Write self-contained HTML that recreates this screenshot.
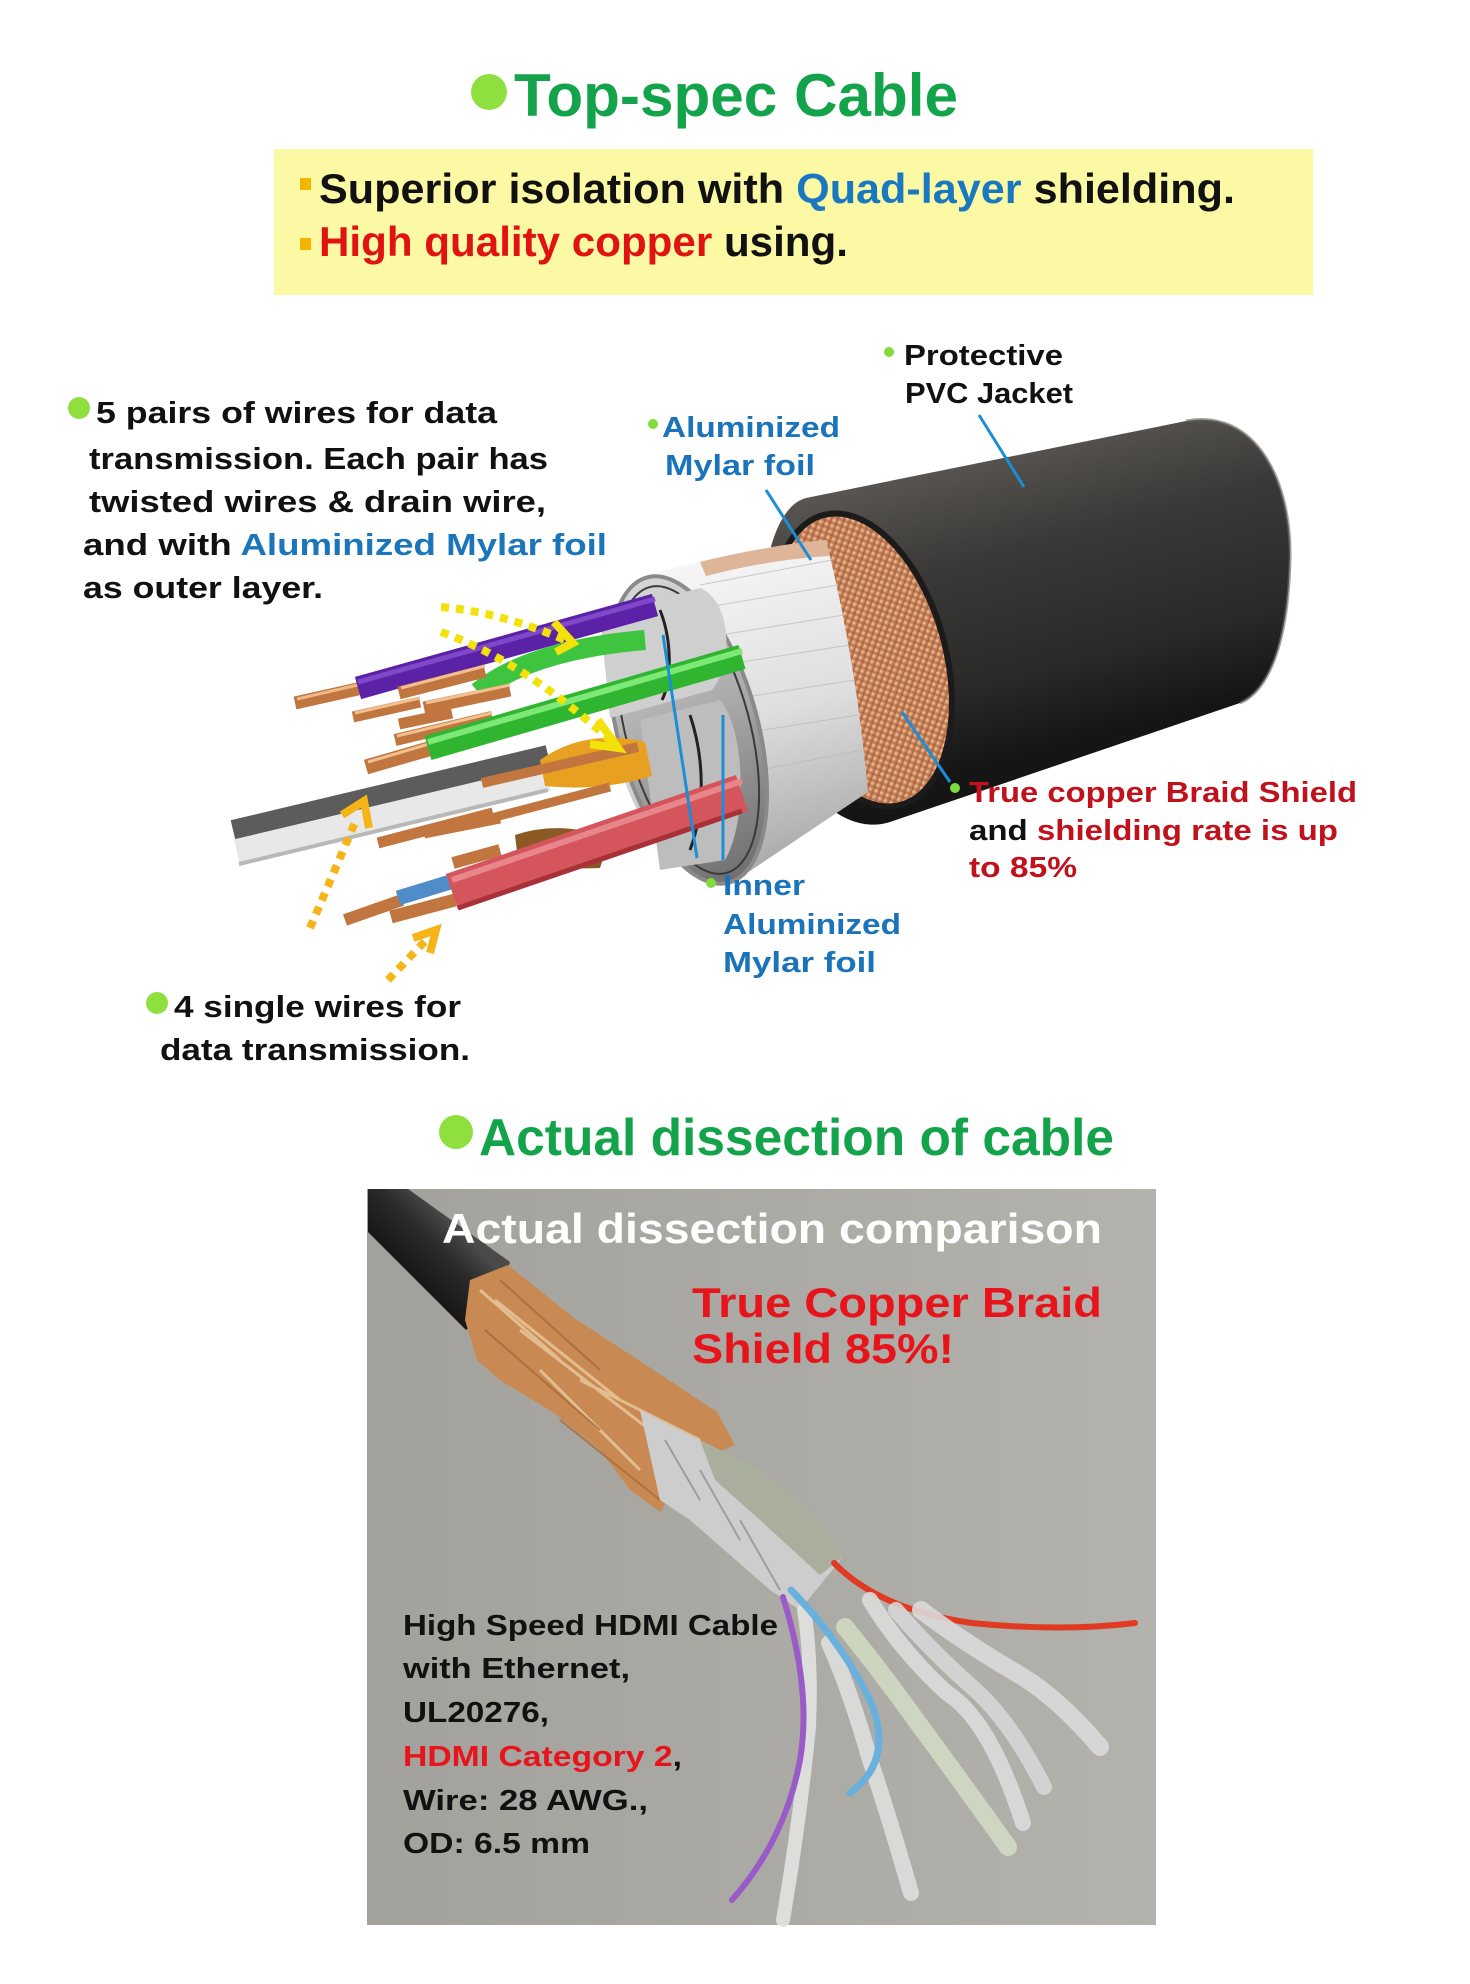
<!DOCTYPE html>
<html><head><meta charset="utf-8">
<style>
html,body{margin:0;padding:0;background:#fff;}
svg{display:block;}
text{font-family:"Liberation Sans",Arial,sans-serif;font-weight:bold;}
</style></head>
<body>
<svg width="1470" height="1984" viewBox="0 0 1470 1984" xmlns="http://www.w3.org/2000/svg">
<defs>
 <linearGradient id="jk" gradientUnits="userSpaceOnUse" x1="1000" y1="440" x2="1080" y2="740">
  <stop offset="0" stop-color="#5a5754"/>
  <stop offset="0.35" stop-color="#3b3937"/>
  <stop offset="0.75" stop-color="#2a2928"/>
  <stop offset="1" stop-color="#151515"/>
 </linearGradient>
 <radialGradient id="cu" cx="0.4" cy="0.4" r="0.7">
  <stop offset="0" stop-color="#f2cfa8"/>
  <stop offset="0.45" stop-color="#d49068"/>
  <stop offset="1" stop-color="#a86440"/>
 </radialGradient>
 <linearGradient id="foil" gradientUnits="userSpaceOnUse" x1="700" y1="560" x2="790" y2="880">
  <stop offset="0" stop-color="#f6f6f6"/>
  <stop offset="0.5" stop-color="#dedede"/>
  <stop offset="1" stop-color="#a4a4a4"/>
 </linearGradient>
 <linearGradient id="inner" gradientUnits="userSpaceOnUse" x1="640" y1="580" x2="730" y2="880">
  <stop offset="0" stop-color="#d8d8d8"/>
  <stop offset="0.5" stop-color="#a9a9a9"/>
  <stop offset="1" stop-color="#6e6e6e"/>
 </linearGradient>
 <linearGradient id="photo" x1="0" y1="0" x2="1" y2="0">
  <stop offset="0" stop-color="#a2a19c"/>
  <stop offset="1" stop-color="#b3b2ad"/>
 </linearGradient>
 <linearGradient id="blk" gradientUnits="userSpaceOnUse" x1="380" y1="1250" x2="430" y2="1200">
  <stop offset="0" stop-color="#151515"/>
  <stop offset="0.6" stop-color="#2a2a2a"/>
  <stop offset="1" stop-color="#4a4a4a"/>
 </linearGradient>
 <pattern id="stripes" width="6" height="6" patternUnits="userSpaceOnUse" patternTransform="rotate(35)">
  <rect width="6" height="6" fill="url(#cu)"/>
  <line x1="0" y1="0" x2="0" y2="6" stroke="#8a4a28" stroke-width="1.5" opacity="0.5"/>
 </pattern>
</defs>

<!-- ===== Title ===== -->
<circle cx="489" cy="92" r="18" fill="#8fe03e"/>
<text x="514" y="116" font-size="60" fill="#13a34a" textLength="444" lengthAdjust="spacingAndGlyphs">Top-spec Cable</text>

<rect x="274" y="149" width="1039" height="146" fill="#fcf9a4"/>
<rect x="300" y="178" width="11" height="12" fill="#f5b400"/>
<rect x="300" y="238" width="11" height="12" fill="#f5b400"/>
<text x="319" y="203" font-size="42" fill="#111" textLength="916" lengthAdjust="spacingAndGlyphs">Superior isolation with <tspan fill="#1a78c0">Quad-layer</tspan> shielding.</text>
<text x="319" y="256" font-size="42" fill="#111" textLength="529" lengthAdjust="spacingAndGlyphs"><tspan fill="#e01212">High quality copper</tspan> using.</text>

<!-- ===== Left description ===== -->
<circle cx="79" cy="408" r="11" fill="#8fe03e"/>
<text x="96" y="423" font-size="31" fill="#111" textLength="401" lengthAdjust="spacingAndGlyphs">5 pairs of wires for data</text>
<text x="89" y="469" font-size="31" fill="#111" textLength="459" lengthAdjust="spacingAndGlyphs">transmission. Each pair has</text>
<text x="89" y="512" font-size="31" fill="#111" textLength="457" lengthAdjust="spacingAndGlyphs">twisted wires &amp; drain wire,</text>
<text x="83" y="555" font-size="31" fill="#111" textLength="524" lengthAdjust="spacingAndGlyphs">and with <tspan fill="#1b75bb">Aluminized Mylar foil</tspan></text>
<text x="83" y="598" font-size="31" fill="#111" textLength="240" lengthAdjust="spacingAndGlyphs">as outer layer.</text>

<!-- ===== Cable illustration ===== -->
<!-- jacket -->
<path d="M806,498 L1186,421 C1255,408 1292,480 1290,560 C1288,640 1270,690 1240,703 L890,822 C850,835 800,800 775,720 C750,640 760,510 806,498 Z" fill="url(#jk)"/>
<path d="M1186,421 C1255,408 1292,480 1290,560 C1288,640 1270,690 1240,703" fill="none" stroke="#6a6764" stroke-width="3" opacity="0.6"/>
<!-- copper braid face -->
<ellipse cx="862" cy="660" rx="84" ry="150" transform="rotate(-15 862 660)" fill="url(#stripes)"/>
<ellipse cx="862" cy="660" rx="84" ry="150" transform="rotate(-15 862 660)" fill="none" stroke="#1c1b1b" stroke-width="6"/>
<!-- foil band -->
<path d="M647,575 C700,560 770,545 826,540 Q856,660 868,792 L729,885 C680,870 625,820 618,749 C612,680 625,610 647,575 Z" fill="url(#foil)"/>
<path d="M700,562 C740,552 790,543 826,540 L830,556 C790,558 745,566 706,576 Z" fill="#d9a582" opacity="0.8"/>
<g stroke="#b8b8b8" stroke-width="1" opacity="0.7">
 <line x1="700" y1="585" x2="832" y2="560"/><line x1="690" y1="610" x2="838" y2="585"/>
 <line x1="690" y1="640" x2="844" y2="615"/><line x1="690" y1="670" x2="850" y2="645"/>
 <line x1="695" y1="705" x2="855" y2="680"/><line x1="700" y1="740" x2="858" y2="715"/>
 <line x1="710" y1="780" x2="862" y2="750"/><line x1="720" y1="820" x2="865" y2="785"/>
</g>
<!-- opening -->
<ellipse cx="688" cy="730" rx="70" ry="158" transform="rotate(-15 688 730)" fill="url(#inner)" stroke="#8a8a8a" stroke-width="4"/>
<ellipse cx="688" cy="730" rx="62" ry="148" transform="rotate(-15 688 730)" fill="none" stroke="#3a3a3a" stroke-width="2"/>
<!-- inner silver tubes -->
<path d="M600,615 L700,588 C730,600 735,660 712,690 L610,718 Z" fill="#cfcfcf"/>
<path d="M640,720 L720,700 C745,730 748,820 725,860 L660,870 Z" fill="#bdbdbd"/>
<path d="M660,610 C672,640 672,680 662,700" fill="none" stroke="#222" stroke-width="3"/>
<path d="M690,715 C705,760 705,810 690,850" fill="none" stroke="#222" stroke-width="3"/>

<!-- purple wire -->
<line x1="295" y1="703" x2="362" y2="688" stroke="#c2763f" stroke-width="13"/>
<line x1="297" y1="699" x2="362" y2="684" stroke="#f0b888" stroke-width="3"/>
<line x1="358" y1="688" x2="655" y2="605" stroke="#5b22a8" stroke-width="23"/>
<line x1="358" y1="682" x2="655" y2="599" stroke="#7e48c8" stroke-width="5"/>
<!-- green twisted upper -->
<path d="M478,692 Q530,650 645,640" fill="none" stroke="#3fc43f" stroke-width="20"/>
<!-- copper tips -->
<g stroke="#c2763f" stroke-linecap="butt">
 <line x1="353" y1="717" x2="420" y2="702" stroke-width="11"/>
 <line x1="399" y1="693" x2="485" y2="671" stroke-width="13"/>
 <line x1="424" y1="708" x2="510" y2="690" stroke-width="13"/>
 <line x1="399" y1="724" x2="452" y2="713" stroke-width="11"/>
 <line x1="395" y1="740" x2="492" y2="717" stroke-width="12"/>
</g>
<g stroke="#f2c090" stroke-width="3">
 <line x1="355" y1="713" x2="420" y2="698"/>
 <line x1="401" y1="688" x2="485" y2="666"/>
 <line x1="426" y1="703" x2="510" y2="685"/>
 <line x1="397" y1="736" x2="492" y2="713"/>
</g>
<!-- green big wire -->
<line x1="366" y1="767" x2="432" y2="748" stroke="#c2763f" stroke-width="15"/>
<line x1="368" y1="762" x2="432" y2="743" stroke="#f2c090" stroke-width="3"/>
<line x1="428" y1="748" x2="742" y2="657" stroke="#2fb52f" stroke-width="25"/>
<line x1="428" y1="742" x2="742" y2="651" stroke="#7ee876" stroke-width="6"/>
<!-- gray / white pair -->
<line x1="233" y1="830" x2="548" y2="755" stroke="#5c5c5c" stroke-width="20"/>
<line x1="237" y1="852" x2="548" y2="778" stroke="#e8e8e8" stroke-width="26"/>
<line x1="239" y1="864" x2="548" y2="790" stroke="#b8b8b8" stroke-width="4"/>
<!-- orange twisted & brown -->
<path d="M540,760 Q585,728 645,742 L652,776 Q600,792 545,786 Z" fill="#e8a020"/>
<path d="M515,835 Q560,820 610,838 L600,868 Q560,870 518,860 Z" fill="#8a5a22"/>
<g stroke="#c2763f">
 <line x1="482" y1="783" x2="638" y2="747" stroke-width="10"/>
 <line x1="378" y1="843" x2="493" y2="813" stroke-width="11"/>
 <line x1="424" y1="833" x2="500" y2="818" stroke-width="11"/>
 <line x1="457" y1="827" x2="610" y2="787" stroke-width="9"/>
 <line x1="453" y1="863" x2="500" y2="850" stroke-width="12"/>
</g>
<!-- red & blue -->
<line x1="345" y1="920" x2="402" y2="900" stroke="#c2763f" stroke-width="12"/>
<line x1="391" y1="917" x2="455" y2="900" stroke="#c2763f" stroke-width="13"/>
<line x1="398" y1="898" x2="470" y2="876" stroke="#4f8cc8" stroke-width="15"/>
<line x1="452" y1="892" x2="742" y2="793" stroke="#d4555c" stroke-width="38"/>
<line x1="452" y1="880" x2="742" y2="781" stroke="#e8868c" stroke-width="6"/>
<line x1="458" y1="908" x2="742" y2="811" stroke="#a83038" stroke-width="5"/>

<!-- yellow dotted arrows -->
<g fill="none" stroke="#f2e20a" stroke-width="8">
 <path d="M441,607 Q500,612 565,640" stroke-dasharray="8 7"/>
 <polyline points="554,622 573,643 556,652"/>
 <path d="M441,632 Q525,662 612,742" stroke-dasharray="8 7"/>
 <polyline points="598,720 618,748 590,744"/>
</g>
<g fill="none" stroke="#f5b518" stroke-width="8">
 <path d="M310,928 L357,818" stroke-dasharray="8 7"/>
 <polyline points="342,815 364,801 369,828"/>
 <path d="M388,980 L428,938" stroke-dasharray="8 7"/>
 <polyline points="413,938 436,930 430,953"/>
</g>

<!-- leader lines -->
<g stroke="#1a8ed6" stroke-width="3">
 <line x1="979" y1="415" x2="1024" y2="487"/>
 <line x1="766" y1="490" x2="811" y2="560"/>
 <line x1="663" y1="635" x2="697" y2="858"/>
 <line x1="723" y1="715" x2="723" y2="860"/>
 <line x1="902" y1="712" x2="950" y2="782"/>
</g>

<!-- labels -->
<circle cx="653" cy="424" r="5" fill="#7edc3c"/>
<text x="662" y="437" font-size="29" fill="#1b73b9" textLength="178" lengthAdjust="spacingAndGlyphs">Aluminized</text>
<text x="665" y="475" font-size="29" fill="#1b73b9" textLength="150" lengthAdjust="spacingAndGlyphs">Mylar foil</text>

<circle cx="889" cy="352" r="5" fill="#7edc3c"/>
<text x="904" y="365" font-size="29" fill="#111" textLength="159" lengthAdjust="spacingAndGlyphs">Protective</text>
<text x="905" y="403" font-size="29" fill="#111" textLength="168" lengthAdjust="spacingAndGlyphs">PVC Jacket</text>

<circle cx="711" cy="883" r="5" fill="#7edc3c"/>
<text x="723" y="895" font-size="29" fill="#1b73b9" textLength="82" lengthAdjust="spacingAndGlyphs">Inner</text>
<text x="723" y="934" font-size="29" fill="#1b73b9" textLength="178" lengthAdjust="spacingAndGlyphs">Aluminized</text>
<text x="723" y="972" font-size="29" fill="#1b73b9" textLength="153" lengthAdjust="spacingAndGlyphs">Mylar foil</text>

<circle cx="955" cy="788" r="5" fill="#7edc3c"/>
<text x="969" y="802" font-size="29" fill="#c0121c" textLength="388" lengthAdjust="spacingAndGlyphs">True copper Braid Shield</text>
<text x="969" y="840" font-size="29" fill="#111" textLength="369" lengthAdjust="spacingAndGlyphs">and <tspan fill="#c0121c">shielding rate is up</tspan></text>
<text x="969" y="877" font-size="29" fill="#c0121c" textLength="108" lengthAdjust="spacingAndGlyphs">to 85%</text>

<circle cx="157" cy="1003" r="11" fill="#8fe03e"/>
<text x="174" y="1017" font-size="31" fill="#111" textLength="287" lengthAdjust="spacingAndGlyphs">4 single wires for</text>
<text x="160" y="1060" font-size="31" fill="#111" textLength="310" lengthAdjust="spacingAndGlyphs">data transmission.</text>

<!-- ===== Second title ===== -->
<circle cx="456" cy="1132" r="17" fill="#8fe03e"/>
<text x="479" y="1155" font-size="52" fill="#13a34a" textLength="635" lengthAdjust="spacingAndGlyphs">Actual dissection of cable</text>

<!-- ===== Photo ===== -->
<rect x="367" y="1189" width="789" height="736" fill="url(#photo)"/>
<!-- black cable -->
<polygon points="368,1189 408,1189 510,1262 498,1300 466,1330 368,1232" fill="url(#blk)"/>
<!-- copper braid -->
<polygon points="470,1280 508,1265 574,1318 646,1365 717,1412 735,1445 700,1460 680,1480 660,1512 630,1490 600,1450 554,1413 500,1380 477,1360 465,1320" fill="#c88a52"/>
<g stroke="#eac9a0" stroke-width="3" opacity="0.8">
 <line x1="480" y1="1290" x2="560" y2="1360"/>
 <line x1="495" y1="1300" x2="620" y2="1400"/>
 <line x1="520" y1="1330" x2="650" y2="1430"/>
 <line x1="540" y1="1370" x2="640" y2="1470"/>
 <line x1="580" y1="1380" x2="700" y2="1440"/>
</g>
<g stroke="#a86a3a" stroke-width="2" opacity="0.8">
 <line x1="500" y1="1280" x2="600" y2="1370"/>
 <line x1="485" y1="1330" x2="600" y2="1430"/>
 <line x1="560" y1="1420" x2="660" y2="1500"/>
</g>
<!-- foil -->
<polygon points="640,1410 700,1440 760,1470 820,1520 842,1558 800,1610 770,1590 730,1555 690,1520 660,1500" fill="#cdcdcd"/>
<polygon points="700,1440 760,1470 820,1520 842,1558 820,1575 760,1520 715,1480" fill="#a9ae9d"/>
<g stroke="#8a8a8a" stroke-width="2" opacity="0.7">
 <line x1="665" y1="1440" x2="700" y2="1500"/>
 <line x1="700" y1="1470" x2="740" y2="1540"/>
 <line x1="740" y1="1520" x2="780" y2="1590"/>
</g>
<!-- wires -->
<g fill="none" stroke-linecap="round">
 <path d="M834,1563 Q880,1610 972,1623 Q1060,1632 1135,1623" stroke="#e03a22" stroke-width="6"/>
 <path d="M1023,1823 Q990,1720 947,1693 Q900,1650 870,1600" stroke="#dcdcdc" stroke-width="16" opacity="0.9"/>
 <path d="M1044,1787 Q1010,1720 972,1687 Q930,1650 896,1610" stroke="#d6d6d6" stroke-width="16" opacity="0.9"/>
 <path d="M1100,1747 Q1060,1700 1023,1677 Q960,1640 921,1610" stroke="#dadada" stroke-width="18" opacity="0.9"/>
 <path d="M1008,1847 Q960,1780 921,1727 Q880,1670 845,1627" stroke="#d2d9c2" stroke-width="18" opacity="0.9"/>
 <path d="M911,1893 Q890,1820 870,1760 Q850,1690 829,1643" stroke="#dedede" stroke-width="16" opacity="0.9"/>
 <path d="M783,1920 Q800,1820 809,1727 Q812,1660 804,1610" stroke="#e2e2e2" stroke-width="14" opacity="0.9"/>
 <path d="M783,1597 Q812,1690 800,1760 Q785,1840 732,1900" stroke="#9a5ac8" stroke-width="6"/>
 <path d="M791,1590 Q840,1640 870,1700 Q895,1760 850,1793" stroke="#6ab0dc" stroke-width="7"/>
</g>
<!-- photo texts -->
<text x="442" y="1243" font-size="42" fill="#ffffff" textLength="660" lengthAdjust="spacingAndGlyphs">Actual dissection comparison</text>
<text x="692" y="1317" font-size="42" fill="#e8141c" textLength="410" lengthAdjust="spacingAndGlyphs">True Copper Braid</text>
<text x="692" y="1363" font-size="42" fill="#e8141c" textLength="262" lengthAdjust="spacingAndGlyphs">Shield 85%!</text>
<text x="403" y="1635" font-size="29" fill="#111" textLength="375" lengthAdjust="spacingAndGlyphs">High Speed HDMI Cable</text>
<text x="403" y="1678" font-size="29" fill="#111" textLength="227" lengthAdjust="spacingAndGlyphs">with Ethernet,</text>
<text x="403" y="1722" font-size="29" fill="#111" textLength="146" lengthAdjust="spacingAndGlyphs">UL20276,</text>
<text x="403" y="1766" font-size="29" fill="#111" textLength="279" lengthAdjust="spacingAndGlyphs"><tspan fill="#e8141c">HDMI Category 2</tspan>,</text>
<text x="403" y="1810" font-size="29" fill="#111" textLength="245" lengthAdjust="spacingAndGlyphs">Wire: 28 AWG.,</text>
<text x="403" y="1853" font-size="29" fill="#111" textLength="187" lengthAdjust="spacingAndGlyphs">OD: 6.5 mm</text>
</svg>
</body></html>
